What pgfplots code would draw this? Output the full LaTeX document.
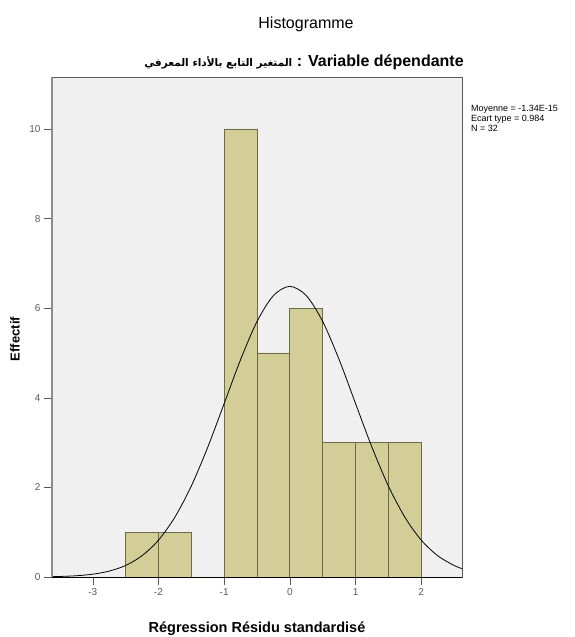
\documentclass[border=0pt]{standalone}
\usepackage{pgfplots}
\pgfplotsset{compat=1.18}
\usepackage{fontspec}
\setmainfont{Liberation Sans}
\newfontfamily\arabicfont[Script=Arabic]{DejaVu Sans}
\TeXXeTstate=1
\definecolor{barfill}{RGB}{211,206,152}
\definecolor{baredge}{RGB}{110,106,72}
\definecolor{plotbg}{RGB}{240,240,240}
\definecolor{frame}{RGB}{90,90,90}

\begin{document}
\begin{tikzpicture}[x=1pt,y=1pt]
\useasboundingbox (0,0) rectangle (574,637);
\begin{axis}[
    at={(52pt,60pt)}, anchor=south west,
    scale only axis,
    width=410pt, height=500pt,
    xmin=-3.62, xmax=2.62,
    ymin=0, ymax=11.16,
    xtick={-3,-2,-1,0,1,2},
    xticklabels={-3,-2,-1,0,1,2},
    ytick={0,2,4,6,8,10},
    tick align=outside,
    tick pos=left,
    major tick length=8pt,
    tick style={frame, thin},
    ticklabel style={font=\fontsize{10}{11}\selectfont, text=black!65},
    /pgf/number format/assume math mode=true,
    axis background/.style={fill=plotbg},
    axis line style={frame},
    clip=false,
]
\addplot[ybar interval, fill=barfill, draw=baredge, thick] table[x=x,y=y] {
x y
-2.5 1
-2.0 1
-1.5 0
-1.0 10
-0.5 5
0.0 6
0.5 3
1.0 3
1.5 3
2.0 3
};
\addplot[black, thick, smooth] coordinates {
(-3.62,0.007) (-3.5,0.012) (-3.25,0.028) (-3,0.062) (-2.75,0.131) (-2.5,0.257)
(-2.25,0.475) (-2,0.822) (-1.75,1.335) (-1.5,2.030) (-1.25,2.895) (-1,3.871)
(-0.75,4.852) (-0.5,5.702) (-0.25,6.281) (0,6.487) (0.25,6.281) (0.5,5.702)
(0.75,4.852) (1,3.871) (1.25,2.895) (1.5,2.030) (1.75,1.335) (2,0.822)
(2.25,0.475) (2.5,0.257) (2.62,0.187)
};
\draw[black, thick] (axis cs:-3.62,0) -- (axis cs:2.62,0);
\draw[black!45, line width=2pt] (axis cs:-3.62,0) -- (axis cs:-3.62,11.16);
\end{axis}
\node[font=\fontsize{16}{18}\selectfont, anchor=base] at (306,608) {Histogramme};
\node[font=\fontsize{16}{18}\selectfont\bfseries, anchor=base] at (304,570) {{\arabicfont\fontsize{10.5}{12}\selectfont\beginR المتغير التابع بالأداء المعرفي\endR} : Variable dépendante};
\node[font=\fontsize{13}{15}\selectfont\bfseries, rotate=90] at (15,298) {Effectif};
\node[font=\fontsize{14.5}{16}\selectfont\bfseries, anchor=base] at (257,5) {Régression Résidu standardisé};
\node[font=\fontsize{9}{9.8}\selectfont, anchor=north west, align=left, inner sep=0pt] at (471,532) {Moyenne = -1.34E-15\\Ecart type = 0.984\\N = 32};
\end{tikzpicture}
\end{document}
